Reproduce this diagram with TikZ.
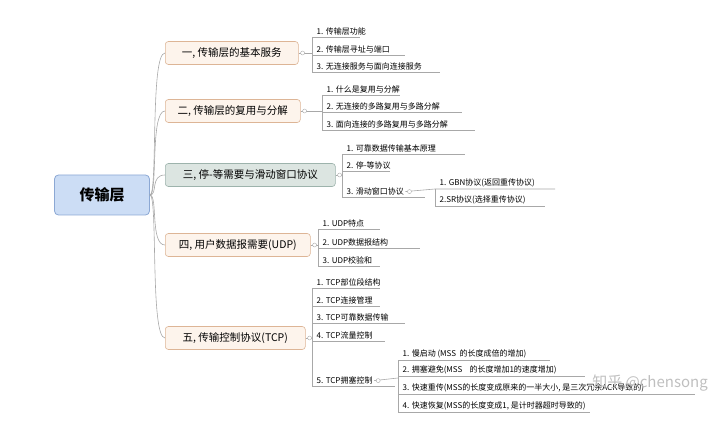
\documentclass[tikz,border=0pt]{standalone}
\usepackage{fontspec}
\setmainfont{Noto Sans CJK SC}
\definecolor{rootfill}{HTML}{CCDDF5}
\definecolor{rootline}{HTML}{8CA8D4}
\definecolor{topfill}{HTML}{FDF4EC}
\definecolor{topline}{HTML}{DDB596}
\definecolor{selfill}{HTML}{DCE5E1}
\definecolor{selline}{HTML}{9DB3AC}
\definecolor{branch}{HTML}{A8A8A8}
\tikzset{
  rootbox/.style={draw=rootline,fill=rootfill,rounded corners=4pt,line width=0.8pt,
    minimum width=95pt,minimum height=40pt,font=\fontsize{15}{15}\selectfont\bfseries},
  topicbox/.style={draw=topline,fill=topfill,rounded corners=3pt,line width=0.6pt,
    minimum height=23pt,anchor=west,inner xsep=6pt,font=\fontsize{10.5}{11}\selectfont},
  leaf/.style={anchor=south west,inner sep=1.5pt,font=\fontsize{8}{8}\selectfont},
  link/.style={draw=branch,line width=0.6pt},
  knob/.style={draw=branch,circle,inner sep=0pt,minimum size=4pt,fill=white}
}
\begin{document}
\begin{tikzpicture}[x=1pt,y=-1pt]
\useasboundingbox (0,0) rectangle (720,422);
\node[rootbox] (root) at (102,195) {传输层};
\node[topicbox,minimum width=133pt] (t1) at (165,53) {一, 传输层的基本服务};
\node[topicbox,minimum width=135pt] (t2) at (165,111) {二, 传输层的复用与分解};
\node[topicbox,minimum width=170pt,draw=selline,fill=selfill] (t3) at (165,175) {三, 停-等需要与滑动窗口协议};
\node[topicbox,minimum width=145pt] (t4) at (165,245) {四, 用户数据报需要(UDP)};
\node[topicbox,minimum width=140pt] (t5) at (165,338) {五, 传输控制协议(TCP)};
\foreach \t/\y in {t1/53,t2/111,t3/175,t4/245,t5/338}
  \draw[link] (root.east) .. controls (158,195) and (150,\y) .. (\t.west);
% leaf groups: parent / bracket x / leaves (text, line y, line end)
\foreach \p/\bx/\items in {
  t1/312/{1. 传输层功能/37/360,2. 传输层寻址与端口/55/405,3. 无连接服务与面向连接服务/72/440},
  t2/322/{1. 什么是复用与分解/95/400,2. 无连接的多路复用与多路分解/112/462,3. 面向连接的多路复用与多路分解/130/475},
  t3/342/{1. 可靠数据传输基本原理/154/465,2. 停-等协议/171/390,3. 滑动窗口协议/197/425},
  t4/318/{1. UDP特点/229/380,2. UDP数据报结构/248/420,3. UDP校验和/266/380},
  t5/312/{1. TCP部位段结构/288/380,2. TCP连接管理/306/380,3. TCP可靠数据传输/323/405,4. TCP流量控制/341/385,5. TCP拥塞控制/386/395}}{
  \coordinate (bxc) at (\bx,0);
  \draw[link] (\p.east) -- (\p.east -| bxc);
  \foreach \txt/\ly/\xe [count=\i] in \items {
    \node[leaf] (\p-\i) at (\bx+3,\ly) {\txt};
    \draw[link] (\bx,\ly) -- (\xe,\ly);
  }
  \node[knob] at ([xshift=4pt]\p.east) {};
}
\draw[link] (312,37) -- (312,72);
\draw[link] (322,95) -- (322,130);
\draw[link] (342,154) -- (342,197);
\draw[link] (318,229) -- (318,266);
\draw[link] (312,288) -- (312,386);
% sub groups
\node[leaf] (s1) at (438,189) {1. GBN协议(返回重传协议)};
\node[leaf] (s2) at (438,206) {2.SR协议(选择重传协议)};
\draw[link] (t3-3.east) -- (435,189) -- (555,189);
\draw[link] (435,189) -- (435,206) -- (545,206);
\node[knob] at ([xshift=4pt]t3-3.east) {};
\node[leaf] (c1) at (401,360) {1. 慢启动 (MSS\ \ 的长度成倍的增加)};
\node[leaf] (c2) at (401,376) {2. 拥塞避免(MSS\ \ \ \ 的长度增加1的速度增加)};
\node[leaf] (c3) at (401,394) {3. 快速重传(MSS的长度变成原来的一半大小, 是三次冗余ACK导致的)};
\node[leaf] (c4) at (401,412) {4. 快速恢复(MSS的长度变成1, 是计时器超时导致的)};
\draw[link] (t5-5.east) -- (398,378);
\draw[link] (398,360) -- (550,360);
\draw[link] (398,376) -- (585,376);
\draw[link] (398,394) -- (695,394);
\draw[link] (398,412) -- (590,412);
\draw[link] (398,360) -- (398,412);
\node[knob] at ([xshift=4pt]t5-5.east) {};
\node[text=black!25,font=\fontsize{15}{15}\selectfont] (mark) at (650,383) {知乎 @chensong};
\end{tikzpicture}
\end{document}
